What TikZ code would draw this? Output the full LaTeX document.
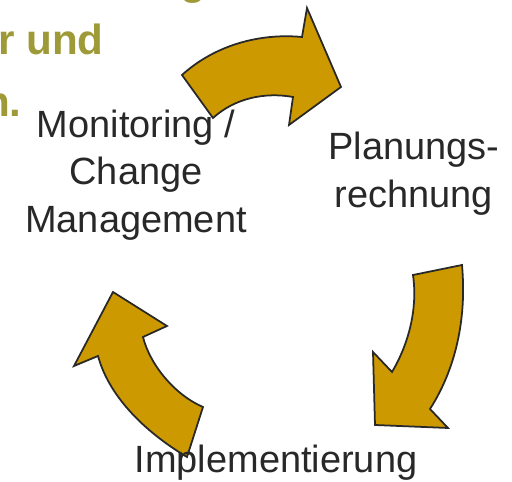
\documentclass[tikz,border=0pt]{standalone}
\usepackage{fontspec}
\setmainfont{Liberation Sans}
\usepackage{xcolor}
\usepackage{tikz}
\definecolor{gold}{RGB}{204,153,0}
\definecolor{olive}{RGB}{158,154,56}
\definecolor{ink}{RGB}{40,40,40}

\begin{document}
\begin{tikzpicture}[x=0.02cm, y=-0.02cm,
    bentarrow/.style={fill=gold, draw=ink, line width=1pt, line join=miter},
    steptext/.style={text=ink, align=center, inner sep=0pt, font=\fontsize{21.6}{27.2}\selectfont},
    headline/.style={text=olive, inner sep=0pt, anchor=base east, font=\fontsize{24}{28}\selectfont\bfseries}]
    \useasboundingbox (0,0) rectangle (512,482);
    \clip (0,0) rectangle (512,482);
    \node[headline] (t1) at (207,-5) {g};
    \node[headline] (t2) at (104,55) {r und};
    \node[headline] (t3) at (22,117) {n.};
    % the three bent arrows
    \draw[bentarrow] (182,75) .. controls (215,45) and (260,33) .. (302,37) -- (307,8) -- (341,87) -- (289,125) -- (293,97)
      .. controls (265,92) and (235,98) .. (213,118) -- cycle;
    \draw[bentarrow] (462,265) -- (413,275) .. controls (418,310) and (408,345) .. (392,372) -- (373,352) -- (375,425) -- (448,428) -- (430,409)
      .. controls (455,370) and (467,320) .. (462,265) -- cycle;
    \draw[bentarrow] (113,292) -- (167,326) -- (143,337) .. controls (150,365) and (175,395) .. (203,407) -- (187,457)
      .. controls (150,435) and (110,400) .. (98,356) -- (74,366) -- cycle;
    \node[steptext] (monitor) at (136,175) {Monitoring /\\Change\\Management};
    \node[steptext] (plan) at (414,174) {Planungs-\\rechnung};
    \node[steptext, anchor=base] (impl) at (276,473) {Implementierung};
\end{tikzpicture}
\end{document}
